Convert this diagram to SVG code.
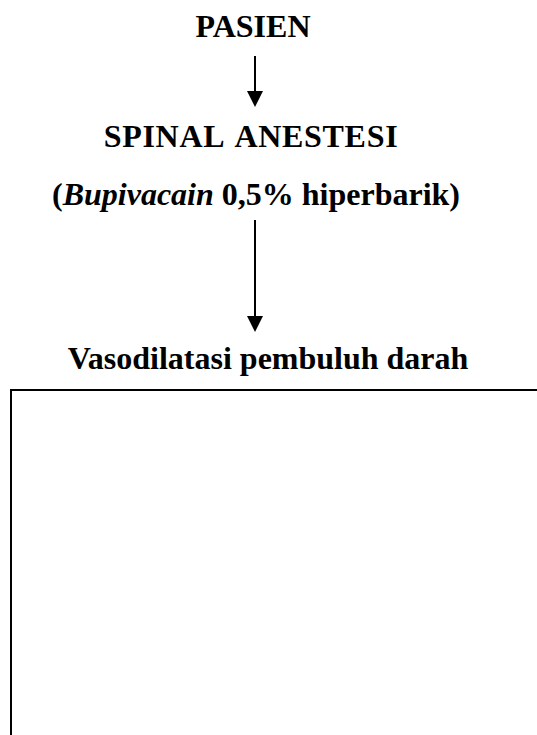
<svg xmlns="http://www.w3.org/2000/svg" width="537" height="735" viewBox="0 0 537 735">
<style>
.t{font-family:"Liberation Serif","Times New Roman",serif;font-weight:bold;font-size:32px;fill:#000;text-anchor:middle}
.w{letter-spacing:0.7px;word-spacing:4px}
.c{stroke:#000;stroke-width:2;fill:none}
.b{stroke:#000;stroke-width:2;fill:none}
.h{fill:#000}
</style>
<rect width="537" height="735" fill="#fff"/>
<g id="pasien"><text class="t" x="253" y="37">PASIEN</text></g>
<g id="spinal"><text class="t w" x="251" y="147">SPINAL ANESTESI</text><text class="t" x="256" y="205">(<tspan font-style="italic">Bupivacain</tspan> 0,5% hiperbarik)</text></g>
<g id="vasodilatasi"><text class="t" x="268" y="369">Vasodilatasi pembuluh darah</text></g>
<g id="box"><path class="b" d="M11,735 V390 H537"/></g>
<g id="connectors">
<line class="c" x1="255" y1="56" x2="255" y2="91"/>
<path class="h" d="M247,91 L263,91 L255,107 Z"/>
<line class="c" x1="255" y1="220" x2="255" y2="316"/>
<path class="h" d="M247,316 L263,316 L255,332 Z"/>
</g>
</svg>
